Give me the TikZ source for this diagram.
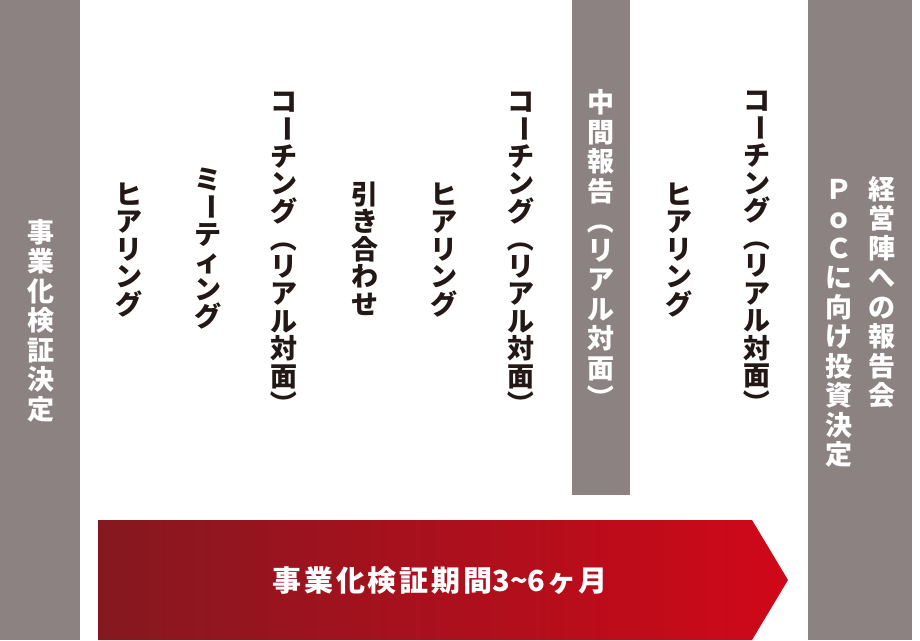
\documentclass[tikz,border=0pt]{standalone}
\usepackage{fontspec}
\usepackage{graphicx}
\newfontfamily\jp{Noto Sans CJK JP}
\definecolor{bargray}{RGB}{140,130,130}
\definecolor{txtblack}{RGB}{35,24,21}
\definecolor{arrowL}{RGB}{133,24,32}
\definecolor{arrowR}{RGB}{208,8,25}
\makeatletter
\newcommand\vrotg[1]{\raisebox{0.88em}{\rotatebox{-90}{#1}}}
\def\vc@loop#1{\ifx#1\relax\else\vc@char{#1}\expandafter\vc@loop\fi}
\def\vc@char#1{\hbox to 1em{\hss\vrule height 0.88em depth 0.12em width 0pt
  \if#1ー\vrotg{#1}\else\if#1（\vrotg{#1}\else\if#1）\vrotg{#1}\else #1\fi\fi\fi\hss}}
\newcommand\vcol[2]{\vbox{\baselineskip=#1\lineskiplimit=-\maxdimen\lineskip=0pt\relax\vc@loop#2\relax}}
\makeatother
\newcommand\ak{\kern2.8pt}
\tikzset{
  bt/.style={anchor=north,inner sep=0pt,text=txtblack,font=\jp\bfseries\fontsize{27}{27}\selectfont},
  gt/.style={bt,text=white},
  bar/.style={fill=bargray,draw=none}
}
\begin{document}
\begin{tikzpicture}[x=1pt,y=-1pt]
\useasboundingbox (0,0) rectangle (920,640);
\fill[white] (0,0) rectangle (920,640);
% bars
\fill[bar] (0,0) rectangle (80,640);
\fill[bar] (572,0) rectangle (630,495);
\fill[bar] (808,0) rectangle (912,640);
% arrow
\shade[left color=arrowL,right color=arrowR] (98,520) -- (752,520) -- (788,580) -- (752,640) -- (98,640) -- cycle;
\node[inner sep=0pt,text=white,font=\jp\bfseries\fontsize{29}{29}\selectfont] (period) at (440,581)
  {事\ak 業\ak 化\ak 検\ak 証\ak 期\ak 間3\char"7E 6\kern2pt ヶ\kern2pt 月};
% gray bar texts
\node[gt] (kettei) at (41,218.5) {\vcol{29.5pt}{事業化検証決定}};
\node[gt] (chukan) at (601,89) {\vcol{29.5pt}{中間報告（リアル対面）}};
\node[gt] (keiei) at (882,175.5) {\vcol{29.5pt}{経営陣への報告会}};
\node[gt] (poc) at (839,175.5) {\vcol{29.5pt}{ＰｏＣに向け投資決定}};
% black texts
\node[bt] (h1) at (129,180.5) {\vcol{27.5pt}{ヒアリング}};
\node[bt] (mt) at (208,165.5) {\vcol{27.5pt}{ミーティング}};
\node[bt] (c1) at (284,87.5) {\vcol{27.5pt}{コーチング（リアル対面）}};
\node[bt] (hk) at (365,180.5) {\vcol{27.5pt}{引き合わせ}};
\node[bt] (h2) at (444,180.5) {\vcol{27.5pt}{ヒアリング}};
\node[bt] (c2) at (521,87.5) {\vcol{27.5pt}{コーチング（リアル対面）}};
\node[bt] (h3) at (679,180.5) {\vcol{27.5pt}{ヒアリング}};
\node[bt] (c3) at (757,87) {\vcol{27.5pt}{コーチング（リアル対面）}};
\end{tikzpicture}
\end{document}
